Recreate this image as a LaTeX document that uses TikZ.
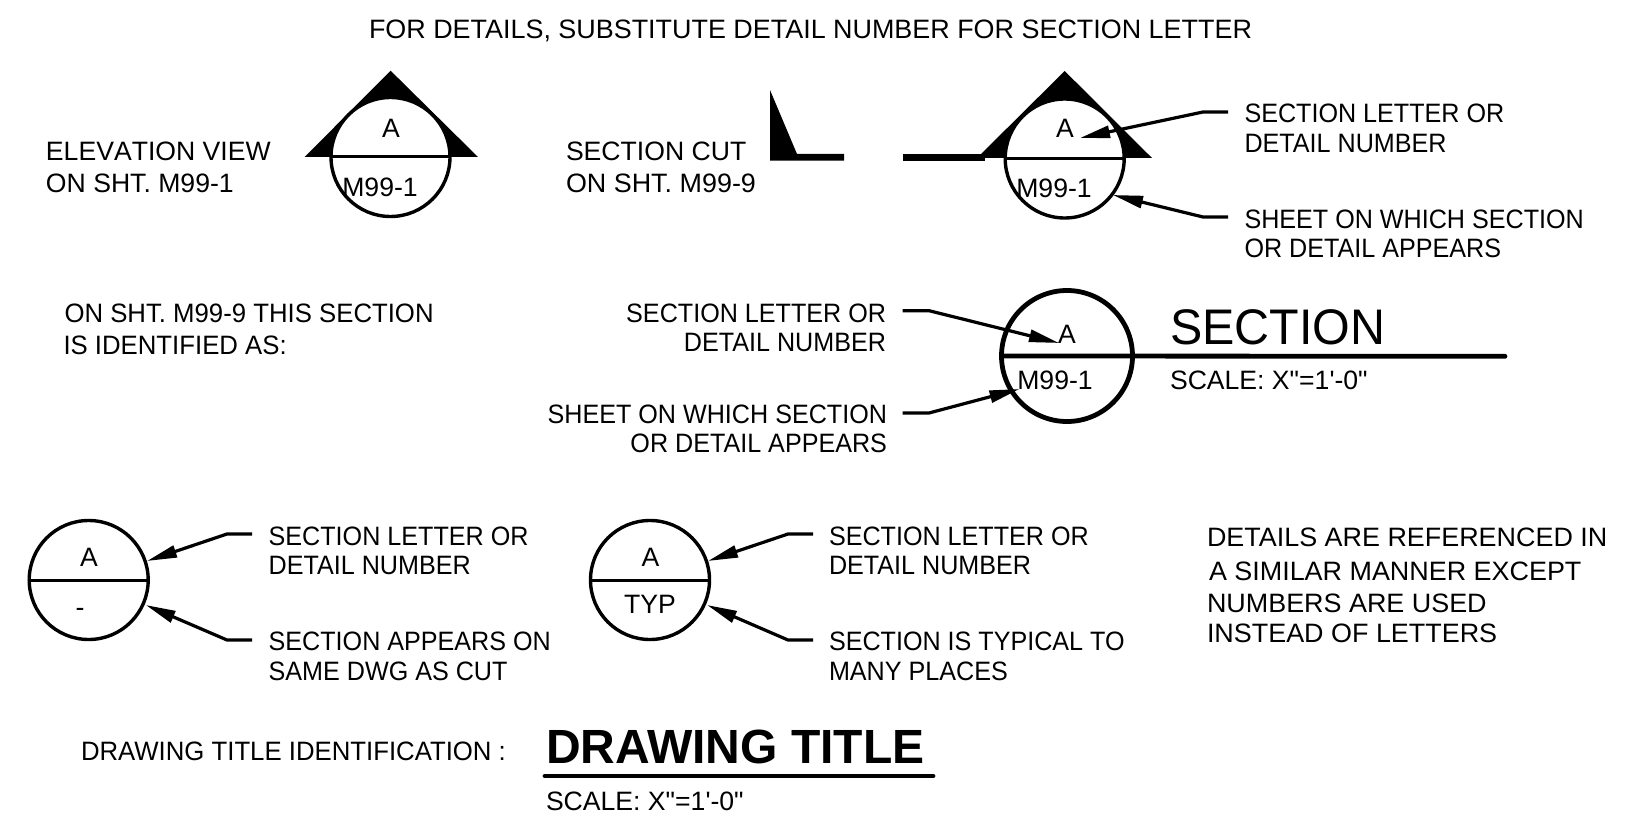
\documentclass[tikz,border=0pt]{standalone}
\usepackage{fontspec}
\setmainfont{Liberation Sans}
\newfontfamily\fwide[FakeStretch=1.012]{Liberation Sans}
\newfontfamily\fmid[FakeStretch=0.968]{Liberation Sans}
\newfontfamily\fnarrow[FakeStretch=0.945]{Liberation Sans}
\newfontfamily\fplain{Liberation Sans}
\newfontfamily\fnokern[Kerning=Off]{Liberation Sans}
\usetikzlibrary{arrows.meta}
\tikzset{
  lbl/.style={anchor=base west,inner sep=0pt,outer sep=0pt,font=\fontsize{13.3}{13.3}\fwide},
  lbln/.style={lbl,font=\fontsize{13.3}{13.3}\fnarrow},
  lblm/.style={lbl,font=\fontsize{13.3}{13.3}\fmid},
  lblp/.style={lbl,font=\fontsize{13.3}{13.3}\fplain},
  lblk/.style={lbl,font=\fontsize{13.3}{13.3}\fnokern},
  lblr/.style={lbln,anchor=base east},
  lblc/.style={lblp,anchor=base},
  bubble/.style={circle,draw=black,fill=white,line width=1.7pt,minimum size=59.5pt,inner sep=0pt,outer sep=0pt},
  bigbubble/.style={bubble,line width=2.4pt,minimum size=65.5pt},
  divider/.style={line width=1.5pt},
  heavy/.style={line width=2.4pt,line cap=round},
  leader/.style={line width=1.6pt,-{Triangle[length=15pt,width=6pt]}},
}
\begin{document}
\begin{tikzpicture}[x=0.5pt,y=-0.5pt]
\useasboundingbox (0,0) rectangle (1633,824);
% Title
\node[lbl] (title) at (369,38.5) {FOR DETAILS, SUBSTITUTE DETAIL NUMBER FOR SECTION LETTER};
% Elevation view
\node[lblk] (ev1) at (46,161) {ELEVATION VIEW};
\node[lblp] (ev2) at (46,192) {ON SHT. M99-1};
\fill (304.6,157) -- (390.6,70.7) -- (478,157) -- cycle;
\node[bubble] (c1) at (390.5,157) {};
\draw[divider] (c1.west) -- (c1.east);
\node[lblc] (c1a) at (391,137.5) {A};
\node[lblc] (c1b) at (380,196) {M99-1};
% Section cut
\node[lblp] (sc1) at (566,161) {SECTION CUT};
\node[lbl] (sc2) at (566,192) {ON SHT. M99-9};
\fill (770,90) -- (797,154) -- (844,154) -- (844,160.7) -- (770,160.7) -- cycle;
\fill (903,154.5) rectangle (985,161);
\fill (977,158) -- (1064.7,71) -- (1152,158) -- cycle;
\node[bubble] (c2) at (1064.7,158.5) {};
\draw[divider] (c2.west) -- (c2.east);
\node[lblc] (c2a) at (1065,137.5) {A};
\node[lblc] (c2b) at (1054,197.5) {M99-1};
\coordinate (s1) at (1228,112); \coordinate (k1) at (1203,112); \coordinate (t1) at (1080,138);
\coordinate (s2) at (1228,217); \coordinate (k2) at (1203,217); \coordinate (t2) at (1113,195);
\draw[leader] (s1) -- (k1) -- (t1);
\draw[leader] (s2) -- (k2) -- (t2);
\node[lbln] (l1) at (1244.5,123) {SECTION LETTER OR};
\node[lbln] (l2) at (1244.5,153) {DETAIL NUMBER};
\node[lbln] (l3) at (1244.5,228) {SHEET ON WHICH SECTION};
\node[lbln] (l4) at (1244.5,257.5) {OR DETAIL APPEARS};
% Section identification
\node[lblm] (id1) at (64.5,322) {ON SHT. M99-9 THIS SECTION};
\node[lblm] (id2) at (63.5,354) {IS IDENTIFIED AS:};
\node[lblr] (r1) at (886,322) {SECTION LETTER OR};
\node[lblr] (r2) at (886,351) {DETAIL NUMBER};
\node[lblr] (r3) at (887,423) {SHEET ON WHICH SECTION};
\node[lblr] (r4) at (887,452) {OR DETAIL APPEARS};
\node[bigbubble] (c3) at (1067,356) {};
\coordinate (e3) at (1505,356.3);
\draw[heavy] (c3.west) -- (e3);
\node[lblc] (c3a) at (1067,343.5) {A};
\node[lblc] (c3b) at (1055,389.5) {M99-1};
\coordinate (s3) at (902.5,310.7); \coordinate (k3) at (929,310.7); \coordinate (t3) at (1059,343);
\coordinate (s4) at (902.5,413); \coordinate (k4) at (929,413); \coordinate (t4) at (1019.5,389);
\draw[leader] (s3) -- (k3) -- (t3);
\draw[leader] (s4) -- (k4) -- (t4);
\node[lbl,font=\fontsize{25}{25}\fmid] (sect) at (1170,344) {SECTION};
\node[lblp] (scale1) at (1170,389.5) {SCALE: X"=1'-0"};
% Bottom left
\node[bubble] (c4) at (88.7,580) {};
\draw[divider] (c4.west) -- (c4.east);
\node[lblc] (c4a) at (89,566.5) {A};
\node[lblc] (c4b) at (80,616) {-};
\coordinate (s5) at (252,534); \coordinate (k5) at (227,534); \coordinate (t5) at (147,561);
\coordinate (s6) at (252,640); \coordinate (k6) at (227,640); \coordinate (t6) at (145.7,605);
\draw[leader] (s5) -- (k5) -- (t5);
\draw[leader] (s6) -- (k6) -- (t6);
\node[lbln] (b1) at (268.7,545) {SECTION LETTER OR};
\node[lbln] (b2) at (268.7,574) {DETAIL NUMBER};
\node[lbln] (b3) at (268.7,650) {SECTION APPEARS ON};
\node[lbln] (b4) at (268.7,680) {SAME DWG AS CUT};
% Bottom middle
\node[bubble] (c5) at (650,580) {};
\draw[divider] (c5.west) -- (c5.east);
\node[lblc] (c5a) at (650.5,566.5) {A};
\node[lblc] (c5b) at (650,613.5) {TYP};
\coordinate (s7) at (813,534); \coordinate (k7) at (788,534); \coordinate (t7) at (708,561);
\coordinate (s8) at (813,640); \coordinate (k8) at (788,640); \coordinate (t8) at (707,605);
\draw[leader] (s7) -- (k7) -- (t7);
\draw[leader] (s8) -- (k8) -- (t8);
\node[lbln] (m1) at (829,545) {SECTION LETTER OR};
\node[lbln] (m2) at (829,574) {DETAIL NUMBER};
\node[lbln] (m3) at (829,650) {SECTION IS TYPICAL TO};
\node[lbln] (m4) at (829,680) {MANY PLACES};
% Right note
\node[lbl] (n1) at (1207,546) {DETAILS ARE REFERENCED IN};
\node[lbl] (n2) at (1209,580) {A SIMILAR MANNER EXCEPT};
\node[lbl] (n3) at (1207,612.5) {NUMBERS ARE USED};
\node[lbl] (n4) at (1207,642.5) {INSTEAD OF LETTERS};
% Drawing title
\node[lblm] (dt0) at (81,760) {DRAWING TITLE IDENTIFICATION :};
\node[lbl,font=\fontsize{24}{24}\fplain\bfseries] (dt) at (546,763) {DRAWING TITLE};
\coordinate (u1) at (545,776); \coordinate (u2) at (933,776);
\draw[heavy] (u1) -- (u2);
\node[lblp] (dts) at (546,810) {SCALE: X"=1'-0"};
\end{tikzpicture}
\end{document}
